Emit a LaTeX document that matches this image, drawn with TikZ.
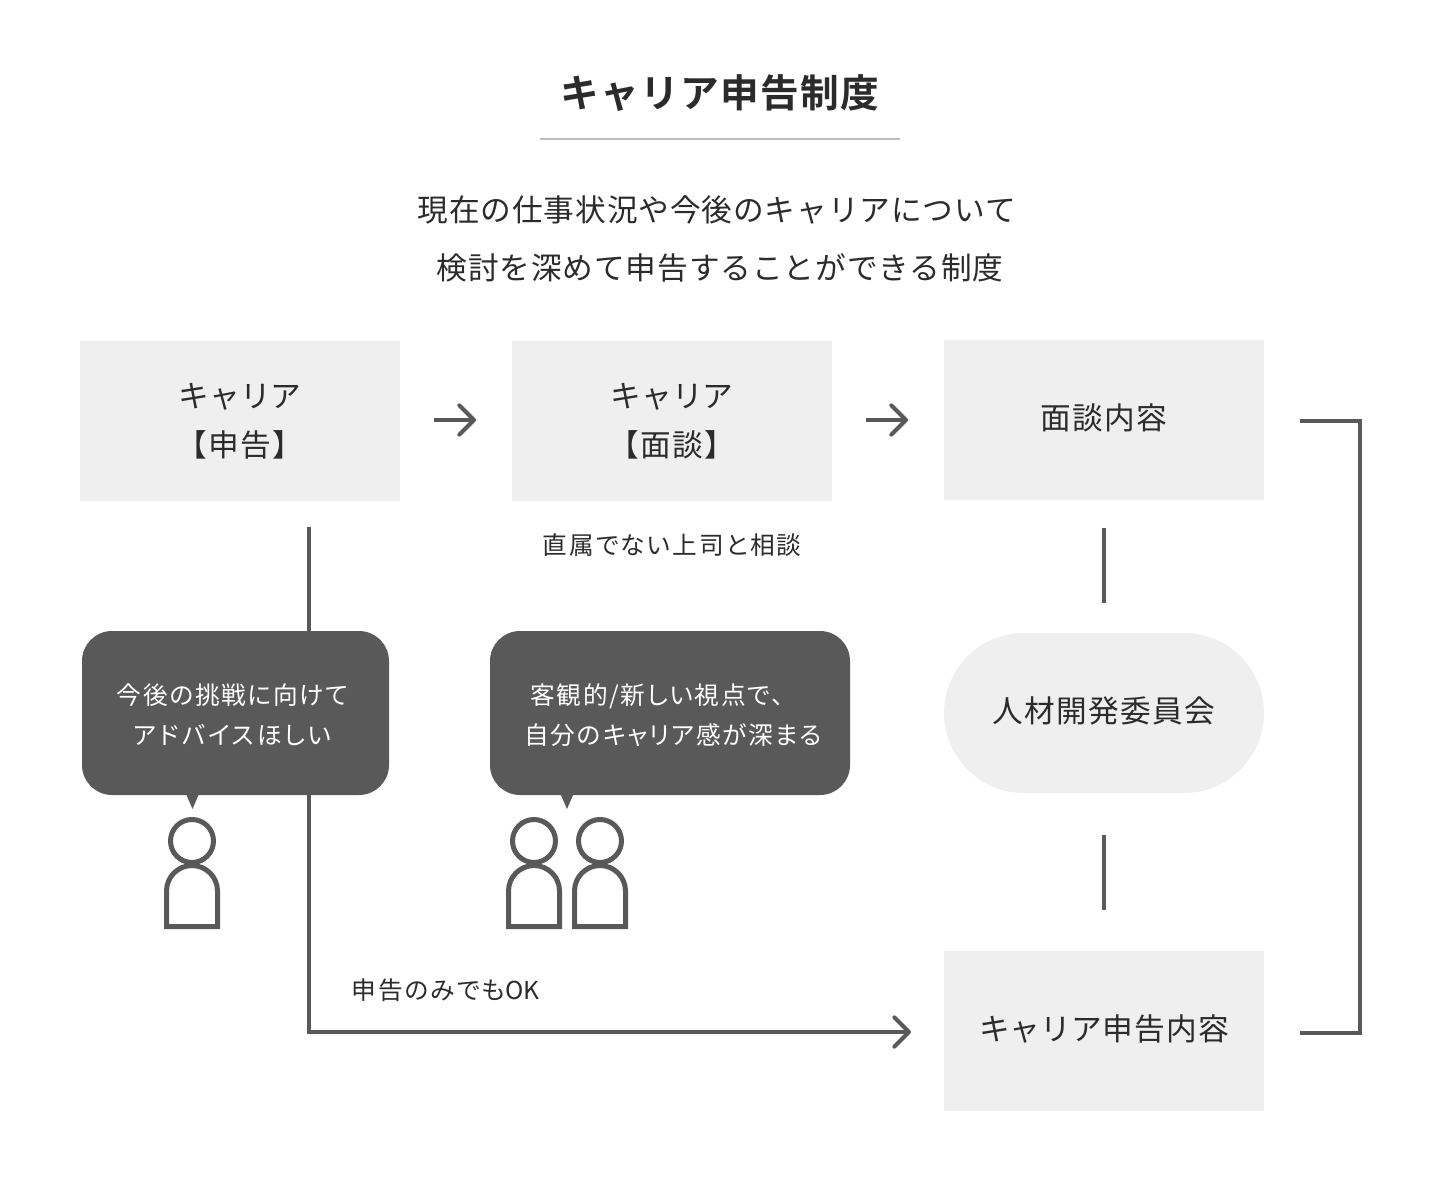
\documentclass[tikz,border=0pt]{standalone}
\usepackage{fontspec}
\setmainfont{Noto Sans CJK JP}
\newfontfamily\jpA[LetterSpace=3]{Noto Sans CJK JP}
\newfontfamily\jpBox[LetterSpace=4.3]{Noto Sans CJK JP}
\newfontfamily\jpKana[LetterSpace=0.5]{Noto Sans CJK JP}
\newfontfamily\jpB[LetterSpace=8.6,RawFeature=+palt]{Noto Sans CJK JP}
\newfontfamily\jpBub[LetterSpace=7,RawFeature=+palt]{Noto Sans CJK JP}
\newfontfamily\jpWide[LetterSpace=11.5,RawFeature=+palt]{Noto Sans CJK JP}
\newfontfamily\jpLat{Noto Sans CJK JP}
\newfontfamily\jpT[LetterSpace=3.4,BoldFont={Noto Sans CJK JP Bold}]{Noto Sans CJK JP}
\usetikzlibrary{arrows.meta}
\definecolor{ink}{HTML}{2B2B2B}
\definecolor{line}{HTML}{595959}
\definecolor{pale}{HTML}{EFEFEF}
\definecolor{rulegray}{HTML}{BBBBBB}
\tikzset{
  x=0.75pt,y=-0.75pt,
  every node/.style={inner sep=0pt,outer sep=0pt,text=ink,align=center},
  titletext/.style={font={\jpT\bfseries\fontsize{29}{32}\selectfont}},
  bigtext/.style={font={\jpA\fontsize{23}{43.5}\selectfont}},
  smalltext/.style={font={\jpB\fontsize{18.5}{22}\selectfont}},
  bubbletext/.style={font={\jpBub\fontsize{18.5}{30}\selectfont},text=white},
  panel/.style={fill=pale,minimum width=240pt,minimum height=120pt,font={\jpBox\fontsize{23}{36.75}\selectfont}},
  oneline/.style={text depth=5.8pt},
  twoline/.style={text depth=2.3pt},
  pill/.style={panel,rounded corners=60pt},
  bubble/.style={fill=line,rounded corners=22.5pt,minimum height=123pt},
  conn/.style={draw=line,line width=3pt},
  chev/.style={conn,-{Straight Barb[length=11pt,width=22pt,line width=3pt,round]}},
  person/.style={draw=line,line width=3.75pt,fill=white},
}
\begin{document}
\begin{tikzpicture}
\useasboundingbox (0,0) rectangle (1440,1191);

\node[titletext] (title) at (720,93) {キャリア申告制度};
\coordinate (ruleL) at (540,139);
\coordinate (ruleR) at (900,139);
\draw[draw=rulegray,line width=1.5pt] (ruleL) -- (ruleR);
\node[bigtext] (intro) at (720,239) {現在の仕事状況や今後のキャリアについて\hspace*{5pt}\\検討を深めて申告することができる制度};

\node[panel,twoline] (shinkoku) at (240,421) {{\jpKana キャリア}\\【申告】};
\node[panel,twoline] (mendan) at (672,421) {{\jpKana キャリア}\\【面談】};
\node[panel,oneline] (naiyou) at (1104,420) {面談内容};
\node[pill,oneline] (iinkai) at (1104,713) {人材開発委員会};
\node[panel,oneline] (career) at (1104,1031) {{\jpKana キャリア}申告内容};

\node[smalltext] (joshi) at (672,545) {直属でない上司と相談};
\node[smalltext] (only) at (445.5,990) {申告のみでも{\jpLat OK}};

% arrows between the top boxes
\coordinate (a1s) at (434,420); \coordinate (a1e) at (476,420);
\coordinate (a2s) at (866,420); \coordinate (a2e) at (908,420);
\draw[chev] (a1s) -- (a1e);
\draw[chev] (a2s) -- (a2e);

% stubs in the right column
\coordinate (s1s) at (1104,528); \coordinate (s1e) at (1104,603);
\coordinate (s2s) at (1104,835); \coordinate (s2e) at (1104,910);
\draw[conn] (s1s) -- (s1e);
\draw[conn] (s2s) -- (s2e);

% bracket on the right
\coordinate (b1) at (1300,421); \coordinate (b2) at (1360,421);
\coordinate (b3) at (1360,1033); \coordinate (b4) at (1300,1033);
\draw[conn] (b1) -- (b2) -- (b3) -- (b4);

% long connector behind the first bubble
\coordinate (l1) at (309,527); \coordinate (l2) at (309,1032); \coordinate (l3) at (911,1032);
\draw[chev] (l1) -- (l2) -- (l3);

% bubbles
\node[bubble,minimum width=230.25pt] (bub1) at (235.5,713) {};
\node[bubble,minimum width=270pt] (bub2) at (670,713) {};
\fill[line] (186,794) -- (199,794) -- (192.5,809) -- cycle;
\fill[line] (560.5,794) -- (573.5,794) -- (567,809) -- cycle;
\node[bubbletext] (bub1t) at (232.5,715) {今後の挑戦に向けて\\{\jpWide アドバイスほしい}};
\node[bubbletext] (bub2t) at (673,715) {客観的/新しい視点で、\hspace*{24pt}\\自分のキャリア感が深まる};

% people
\foreach \bx in {192,534,600}{
  \draw[person] (\bx-25.5,926.5) -- (\bx-25.5,891) arc[start angle=180,end angle=360,radius=25.5] -- (\bx+25.5,926.5) -- cycle;
  \draw[person] (\bx,841) circle[radius=21.5];
}
\end{tikzpicture}
\end{document}
